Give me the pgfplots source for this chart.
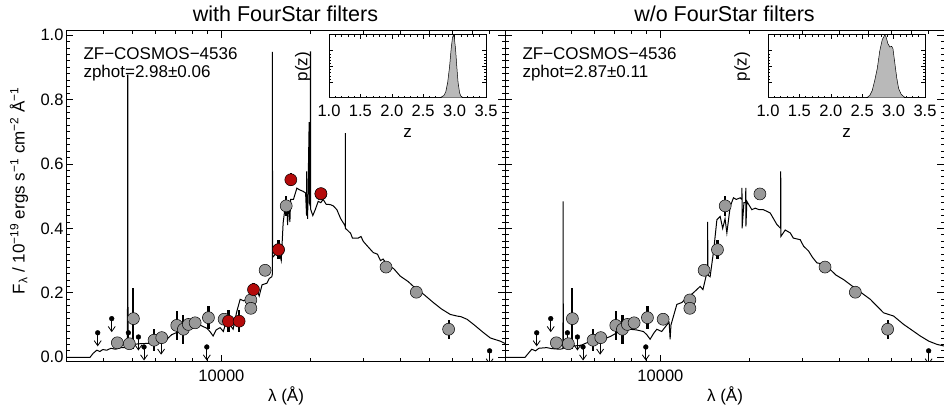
\documentclass[border=0pt]{standalone}
\usepackage{fontspec}
\setmainfont{Liberation Sans}
\usepackage{pgfplots}
\usepackage{pgfplotstable}
\pgfplotsset{compat=1.18}
\usetikzlibrary{arrows.meta}
\definecolor{ptgray}{RGB}{153,153,153}
\definecolor{ptred}{RGB}{180,10,10}
\definecolor{pzfill}{RGB}{185,185,185}

% model spectrum, with FourStar filters (z=2.98)
\pgfplotstableread{
lam f
3000 0
3614 0
3700 0.012
3808 0.022
3900 0.018
3990 0.024
4113 0.022
4250 0.028
4400 0.025
4600 0.03
4803 0.03
4830 0.03
4834 0.876
4846 0.876
4850 0.03
5043 0.04
5300 0.042
5600 0.043
6061 0.045
6300 0.05
6550 0.056
6800 0.07
7076 0.077
7300 0.085
7649 0.092
7900 0.088
8200 0.097
8482 0.100
8700 0.095
8931 0.09
9150 0.08
9378 0.066
9600 0.085
9900 0.092
10150 0.08
10426 0.118
10700 0.10
10950 0.087
11250 0.14
11562 0.18
11900 0.175
12303 0.185
12700 0.2
13160 0.21
13400 0.19
13700 0.225
14220 0.23
14500 0.245
14783 0.25
14845 0.26
14850 0.948
14860 0.31
15200 0.32
15763 0.314
15900 0.30
16134 0.417
16400 0.47
16604 0.48
16700 0.41
16800 0.48
17000 0.42
17100 0.49
17474 0.49
17944 0.525
18300 0.52
18844 0.515
19200 0.51
19340 0.44
19347 0.577
19360 0.50
19500 0.43
19737 0.73
19760 0.48
19910 0.47
19920 0.948
19945 0.948
19955 0.46
20300 0.44
20685 0.458
21171 0.484
21600 0.48
22000 0.49
22500 0.475
23226 0.474
23800 0.47
24462 0.458
25200 0.43
26000 0.41
26110 0.405
26121 0.696
26135 0.40
26439 0.396
27200 0.385
27600 0.37
28862 0.37
29500 0.375
30000 0.36
31000 0.345
32430 0.325
33500 0.32
34300 0.30
35000 0.305
36063 0.288
38000 0.275
39962 0.252
42500 0.235
45486 0.21
48000 0.195
51628 0.17
55000 0.15
58893 0.133
62059 0.128
64000 0.126
67054 0.118
71000 0.10
76058 0.077
80300 0.06
86780 0.05
90000 0.043
}\specL

% model spectrum, without FourStar filters (z=2.87)
\pgfplotstableread{
lam f
3000 0
3504 0
3691 0.025
3800 0.02
3900 0.028
4145 0.03
4300 0.027
4595 0.025
4700 0.027
4706 0.484
4712 0.028
4900 0.03
5094 0.035
5400 0.037
5653 0.045
6000 0.047
6429 0.056
6800 0.065
7132 0.076
7500 0.08
7907 0.087
8300 0.085
8767 0.08
9000 0.07
9232 0.056
9500 0.075
9725 0.087
10100 0.08
10500 0.10
10700 0.108
10781 0.056
10850 0.10
11355 0.164
11800 0.17
12274 0.185
12900 0.2
13607 0.22
13900 0.21
14327 0.262
14410 0.26
14424 0.42
14440 0.255
14697 0.25
15100 0.33
15489 0.427
15890 0.437
16200 0.40
16500 0.43
16735 0.386
17170 0.468
17614 0.495
18000 0.49
18549 0.495
18800 0.49
18812 0.526
18830 0.40
19100 0.48
19350 0.48
19377 0.526
19400 0.406
19540 0.484
20310 0.458
20839 0.463
21500 0.458
22222 0.458
23407 0.448
24655 0.412
25380 0.40
25399 0.577
25420 0.375
26300 0.395
27340 0.386
28000 0.37
29538 0.365
30306 0.345
31500 0.33
32500 0.31
33626 0.293
35000 0.29
37290 0.272
39000 0.255
41346 0.241
45870 0.21
50826 0.18
56347 0.138
60900 0.128
65831 0.102
70000 0.085
74890 0.066
80000 0.05
85241 0.04
90000 0.035
}\specR

% photometry (grey), with errors
\pgfplotstableread{
lam f e
4465 0.045 0
4900 0.042 0
5056 0.12 0.095
5934 0.053 0.035
6300 0.061 0
7076 0.099 0.045
7449 0.087 0.045
7743 0.102 0
8157 0.107 0
9043 0.123 0.035
10212 0.118 0
12562 0.178 0
12562 0.152 0
14030 0.27 0
15560 0.334 0.03
16518 0.47 0.03
21617 0.507 0
35800 0.28 0
45270 0.202 0
58140 0.087 0.03
}\ptsGray

% FourStar photometry (red)
\pgfplotstableread{
lam f e
10561 0.112 0.035
11469 0.112 0.035
12822 0.21 0.02
15560 0.334 0.03
17124 0.551 0.02
21617 0.508 0.015
}\ptsRed

% p(z)
\pgfplotstableread{
z p
1.0 0
2.70 0
2.78 0.01
2.83 0.04
2.86 0.10
2.89 0.25
2.92 0.50
2.945 0.78
2.965 0.95
2.98 1.0
2.995 0.96
3.015 0.78
3.035 0.50
3.055 0.25
3.08 0.08
3.10 0.03
3.13 0.008
3.17 0
3.5 0
}\pzL
\pgfplotstableread{
z p
1.0 0
2.50 0
2.58 0.01
2.62 0.04
2.66 0.12
2.70 0.28
2.74 0.47
2.78 0.75
2.82 0.93
2.86 1.0
2.88 0.97
2.91 0.86
2.94 0.81
2.97 0.82
2.99 0.78
3.02 0.55
3.05 0.32
3.08 0.15
3.12 0.06
3.17 0.015
3.22 0
3.5 0
}\pzR

\newcommand{\ulims}{%
\addplot[black, line width=0.8pt, -{Straight Barb[length=5pt,width=7pt]}] coordinates {(3835,0.076) (3835,0.034)};
\addplot[black, line width=0.8pt, -{Straight Barb[length=5pt,width=7pt]}] coordinates {(4275,0.120) (4275,0.078)};
\addplot[black, line width=0.8pt, -{Straight Barb[length=5pt,width=7pt]}] coordinates {(4864,0.076) (4864,0.034)};
\addplot[black, line width=0.8pt, -{Straight Barb[length=5pt,width=7pt]}] coordinates {(5257,0.063) (5257,0.021)};
\addplot[black, line width=0.8pt, -{Straight Barb[length=5pt,width=7pt]}] coordinates {(5491,0.032) (5491,-0.010)};
\addplot[black, line width=0.8pt, -{Straight Barb[length=5pt,width=7pt]}] coordinates {(6267,0.050) (6267,0.008)};
\addplot[black, line width=0.8pt, -{Straight Barb[length=5pt,width=7pt]}] coordinates {(8931,0.032) (8931,-0.010)};
\addplot[black, line width=0.8pt, -{Straight Barb[length=5pt,width=7pt]}] coordinates {(79890,0.020) (79890,-0.022)};
\addplot[only marks, mark=*, mark size=2.4pt, black] coordinates {(3835,0.076) (4275,0.120) (4864,0.076) (5257,0.063) (5491,0.032) (6267,0.050) (8931,0.032) (79890,0.020)};
}

\newcommand{\graypts}{%
\addplot[only marks, mark=*, mark size=6pt, mark options={fill=ptgray, draw=black, line width=0.5pt},
  error bars/.cd, y dir=both, y explicit, error bar style={line width=2.2pt, black}, error mark=none]
  table[x=lam, y=f, y error=e] {\ptsGray};
}

\begin{document}
\begin{tikzpicture}
\path[use as bounding box] (0pt,0pt) rectangle (944pt,412pt);

\begin{axis}[at={(66pt,50.3pt)}, anchor=south west, scale only axis, width=439pt, height=331pt,
    xmode=log, xmin=3000, xmax=90000, ymin=-0.0137, ymax=1.0137,
    xtick={10000}, xticklabels={10000},
    minor xtick={4000,5000,6000,7000,8000,9000,20000,30000,40000,50000,60000,70000,80000},
    ytick={0,0.2,0.4,0.6,0.8,1.0}, minor y tick num=9,
    yticklabels={0.0,0.2,0.4,0.6,0.8,1.0},
    tick align=inside, major tick length=7pt, minor tick length=3.5pt,
    every tick/.append style={black, line width=0.8pt},
    axis line style={line width=1pt},
    yticklabel style={xshift=1pt},
    xticklabel style={yshift=-5pt},
    tick label style={font=\fontsize{16.5}{18}\selectfont}]
  \addplot[black, line width=1pt] table[x=lam, y=f] {\specL};
  \ulims
  \graypts
  \addplot[only marks, mark=*, mark size=6pt, mark options={fill=ptred, draw=black, line width=0.5pt},
    error bars/.cd, y dir=both, y explicit, error bar style={line width=2.2pt, black}, error mark=none]
    table[x=lam, y=f, y error=e] {\ptsRed};
\end{axis}

\begin{axis}[at={(505pt,50.3pt)}, anchor=south west, scale only axis, width=439pt, height=331pt,
    xmode=log, xmin=3000, xmax=90000, ymin=-0.0137, ymax=1.0137,
    xtick={10000}, xticklabels={10000},
    minor xtick={4000,5000,6000,7000,8000,9000,20000,30000,40000,50000,60000,70000,80000},
    ytick={0,0.2,0.4,0.6,0.8,1.0}, minor y tick num=9,
    yticklabels={},
    tick align=inside, major tick length=7pt, minor tick length=3.5pt,
    every tick/.append style={black, line width=0.8pt},
    axis line style={line width=1pt},
    xticklabel style={yshift=-5pt},
    tick label style={font=\fontsize{16.5}{18}\selectfont}]
  \addplot[black, line width=1pt] table[x=lam, y=f] {\specR};
  \ulims
  \graypts
\end{axis}

\begin{axis}[at={(329pt,314pt)}, anchor=south west, scale only axis, width=157pt, height=63pt,
    xmin=1, xmax=3.5, ymin=0, ymax=1.0,
    xtick={1,1.5,2,2.5,3,3.5}, xticklabels={1.0,1.5,2.0,2.5,3.0,3.5}, minor x tick num=4,
    ytick={0.25,0.5,0.75}, yticklabels={}, minor y tick num=4,
    tick align=inside, major tick length=4pt, minor tick length=2pt,
    every tick/.append style={black, line width=0.6pt},
    axis line style={line width=1pt},
    xticklabel style={yshift=-3.5pt},
    tick label style={font=\fontsize{16.5}{18}\selectfont},
    xlabel={z}, ylabel={p(z)},
    label style={font=\fontsize{17}{20}\selectfont},
    xlabel style={at={(axis description cs:0.5,-0.556)}, anchor=center},
    ylabel style={at={(axis description cs:-0.165,0.5)}, anchor=center}]
  \addplot[fill=pzfill, draw=black, line width=0.5pt] table[x=z, y=p] {\pzL} \closedcycle;
\end{axis}

\begin{axis}[at={(768pt,314pt)}, anchor=south west, scale only axis, width=157pt, height=63pt,
    xmin=1, xmax=3.5, ymin=0, ymax=1.0,
    xtick={1,1.5,2,2.5,3,3.5}, xticklabels={1.0,1.5,2.0,2.5,3.0,3.5}, minor x tick num=4,
    ytick={0.25,0.5,0.75}, yticklabels={}, minor y tick num=4,
    tick align=inside, major tick length=4pt, minor tick length=2pt,
    every tick/.append style={black, line width=0.6pt},
    axis line style={line width=1pt},
    xticklabel style={yshift=-3.5pt},
    tick label style={font=\fontsize{16.5}{18}\selectfont},
    xlabel={z}, ylabel={p(z)},
    label style={font=\fontsize{17}{20}\selectfont},
    xlabel style={at={(axis description cs:0.5,-0.556)}, anchor=center},
    ylabel style={at={(axis description cs:-0.165,0.5)}, anchor=center}]
  \addplot[fill=pzfill, draw=black, line width=0.5pt] table[x=z, y=p] {\pzR} \closedcycle;
\end{axis}

\node[anchor=base, font=\fontsize{21.5}{24}\selectfont] at (285.5pt,390.3pt) {with FourStar filters};
\node[anchor=base, font=\fontsize{21.5}{24}\selectfont] at (724.5pt,390.3pt) {w/o FourStar filters};
\node[anchor=base west, inner sep=0pt, font=\fontsize{17}{20}\selectfont] at (83.3pt,352pt) {ZF−COSMOS−4536};
\node[anchor=base west, inner sep=0pt, font=\fontsize{17}{20}\selectfont] at (83.3pt,334.7pt) {zphot=2.98±0.06};
\node[anchor=base west, inner sep=0pt, font=\fontsize{17}{20}\selectfont] at (522.3pt,352pt) {ZF−COSMOS−4536};
\node[anchor=base west, inner sep=0pt, font=\fontsize{17}{20}\selectfont] at (522.3pt,334.7pt) {zphot=2.87±0.11};
\node[anchor=base, font=\fontsize{17}{20}\selectfont] at (286pt,10.3pt) {λ (Å)};
\node[anchor=base, font=\fontsize{17}{20}\selectfont] at (725pt,10.3pt) {λ (Å)};
\node[rotate=90, font=\fontsize{17}{20}\selectfont] at (19pt,221.3pt) {F\textsubscript{λ} / 10\textsuperscript{−19} ergs s\textsuperscript{−1} cm\textsuperscript{−2} Å\textsuperscript{−1}};
\end{tikzpicture}
\end{document}
